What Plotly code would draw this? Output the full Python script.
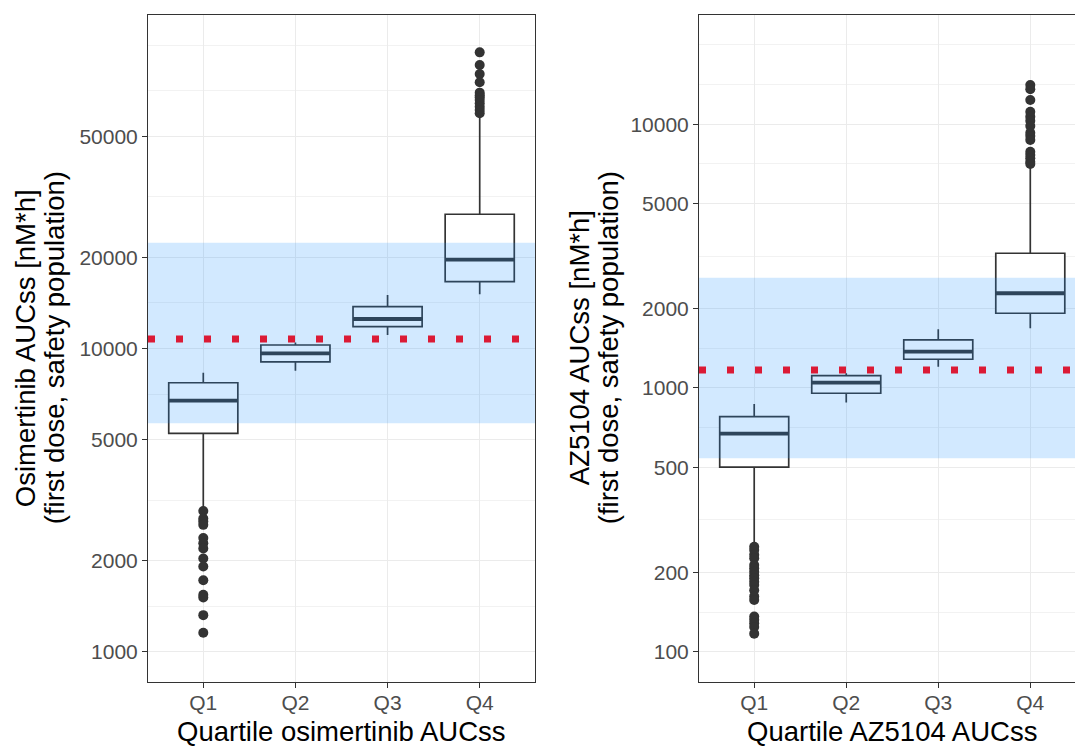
import plotly.graph_objects as go

# ---- data -------------------------------------------------------------
categories = ["Q1", "Q2", "Q3", "Q4"]
positions = [1, 2, 3, 4]

# Osimertinib AUCss (nM*h) box statistics per exposure quartile
osi_lower = [2950, 8450, 11080, 15100]
osi_q1 = [5250, 9030, 11800, 16610]
osi_median = [6730, 9640, 12510, 19630]
osi_q3 = [7710, 10270, 13740, 27720]
osi_upper = [8320, 10470, 15020, 58500]
osi_outliers_q1 = [2910, 2750, 2690, 2620, 2370, 2280, 2190, 2030, 1910,
                   1720, 1540, 1510, 1320, 1155]
osi_outliers_q4 = [94800, 86100, 80400, 75500, 69800, 68500, 67400, 66000,
                   64400, 62700, 61200, 59700]
osi_band = [5665, 22330]
osi_reference = 10750
osi_ticks = [1000, 2000, 5000, 10000, 20000, 50000]
osi_minor = [1414, 3162, 7071, 14142, 31623, 70711, 100000]

# AZ5104 AUCss (nM*h) box statistics per exposure quartile
az_lower = [252, 880, 1204, 1684]
az_q1 = [501, 955, 1285, 1920]
az_median = [671, 1047, 1373, 2287]
az_q3 = [778, 1113, 1521, 3242]
az_upper = [870, 1137, 1670, 7050]
az_outliers_q1 = [250, 243, 233, 226, 213, 207, 201, 195, 190, 184, 179,
                  171, 162, 157, 136, 132, 128, 124, 117]
az_outliers_q4 = [14090, 13570, 12360, 11160, 10690, 10320, 9850, 9290,
                  9030, 8720, 7870, 7650, 7430, 7210, 7070]
az_band = [541, 2620]
az_reference = 1170
az_ticks = [100, 200, 500, 1000, 2000, 5000, 10000]
az_minor = [141, 316, 707, 1414, 3162, 7071, 14142, 20000]

# ---- styling ----------------------------------------------------------
FONT = "Liberation Sans, Arial, Helvetica, sans-serif"
DARK = "#333333"
GRID = "#EBEBEB"
BAND = "rgba(30,144,255,0.20)"
RED = "#DB1A35"
BOX_W = 0.75
X_SPAN = [0.4, 4.6]

fig = go.Figure()


def add_panel(xa, ya, lower, q1, med, q3, upper, out_q1, out_q4, band, ref):
    fig.add_trace(go.Box(
        x=positions, q1=q1, median=med, q3=q3,
        lowerfence=lower, upperfence=upper,
        width=BOX_W, whiskerwidth=0, boxpoints=False,
        fillcolor="white", line=dict(color=DARK, width=1.7),
        xaxis=xa, yaxis=ya, showlegend=False, hoverinfo="skip"))
    # thicker median bars
    mx, my = [], []
    for p, m in zip(positions, med):
        mx += [p - BOX_W / 2, p + BOX_W / 2, None]
        my += [m, m, None]
    fig.add_trace(go.Scatter(x=mx, y=my, mode="lines",
                             line=dict(color=DARK, width=3.8),
                             xaxis=xa, yaxis=ya, showlegend=False,
                             hoverinfo="skip"))
    # outliers
    ox = [positions[0]] * len(out_q1) + [positions[3]] * len(out_q4)
    oy = out_q1 + out_q4
    fig.add_trace(go.Scatter(x=ox, y=oy, mode="markers",
                             marker=dict(color=DARK, size=10),
                             xaxis=xa, yaxis=ya, showlegend=False,
                             hoverinfo="skip"))
    # shaded target band drawn over the boxes
    fig.add_trace(go.Scatter(
        x=[X_SPAN[0], X_SPAN[1], X_SPAN[1], X_SPAN[0], X_SPAN[0]],
        y=[band[0], band[0], band[1], band[1], band[0]],
        mode="lines", fill="toself", fillcolor=BAND,
        line=dict(width=0), xaxis=xa, yaxis=ya, showlegend=False,
        hoverinfo="skip"))
    # dotted reference level
    fig.add_trace(go.Scatter(
        x=X_SPAN, y=[ref, ref], mode="lines",
        line=dict(color=RED, width=7, dash="7px,21px"),
        xaxis=xa, yaxis=ya, showlegend=False, hoverinfo="skip"))


add_panel("x", "y", osi_lower, osi_q1, osi_median, osi_q3, osi_upper,
          osi_outliers_q1, osi_outliers_q4, osi_band, osi_reference)
add_panel("x2", "y2", az_lower, az_q1, az_median, az_q3, az_upper,
          az_outliers_q1, az_outliers_q4, az_band, az_reference)

W, H = 1075, 748
left_px = (148.0, 535.0)
right_px = (699.0, 1075.0)
top_px, bottom_px = 14.7, 681.7
ydom = [(H - bottom_px) / H, (H - top_px) / H]
tickfont = dict(family=FONT, size=21, color="#4D4D4D")

xcommon = dict(tickmode="array", tickvals=positions, ticktext=categories,
               showgrid=True, gridcolor=GRID, gridwidth=1.3, zeroline=False,
               showline=True, linecolor=DARK, linewidth=1, mirror=True,
               ticks="outside", ticklen=5, tickcolor=DARK, tickwidth=1,
               ticklabelstandoff=-3,
               tickfont=tickfont, automargin=False)
ycommon = dict(type="log", showgrid=True, gridcolor=GRID, gridwidth=1.3,
               zeroline=False, showline=True, linecolor=DARK, linewidth=1,
               ticks="outside", ticklen=5, tickcolor=DARK, tickwidth=1,
               tickfont=tickfont, automargin=False, tickmode="array")

fig.update_layout(
    width=W, height=H,
    margin=dict(l=0, r=0, t=0, b=0),
    paper_bgcolor="white", plot_bgcolor="white",
    xaxis=dict(xcommon, domain=[left_px[0] / W, left_px[1] / W],
               range=X_SPAN, anchor="y"),
    xaxis2=dict(xcommon, domain=[right_px[0] / W, right_px[1] / W],
                range=[X_SPAN[0], 4 + (1075 - 1030.3) / 92.0], anchor="y2"),
    yaxis=dict(ycommon, domain=ydom, range=[2.901, 5.101], anchor="x",
               mirror=True, tickvals=osi_ticks,
               ticktext=[str(v) for v in osi_ticks],
               minor=dict(tickmode="array", tickvals=osi_minor,
                          showgrid=True, gridcolor="#F2F2F2", gridwidth=0.7,
                          ticklen=0)),
    yaxis2=dict(ycommon, domain=ydom, range=[1.886, 4.4156], anchor="x2",
                mirror=False, tickvals=az_ticks,
                ticktext=[str(v) for v in az_ticks],
                minor=dict(tickmode="array", tickvals=az_minor,
                           showgrid=True, gridcolor="#F2F2F2", gridwidth=0.7,
                           ticklen=0)),
)

titlefont = dict(family=FONT, size=27.5, color="black")
ymid = (H - (top_px + bottom_px) / 2) / H
annotations = [
    dict(text="Quartile osimertinib AUCss", xref="x", x=2.5,
         yref="paper", y=0.0, yanchor="bottom", borderpad=0),
    dict(text="Quartile AZ5104 AUCss", xref="x2", x=2.5,
         yref="paper", y=0.0, yanchor="bottom", borderpad=0),
    dict(text="Osimertinib AUCss [nM*h]", xref="paper", x=25 / W,
         yref="paper", y=ymid, textangle=-90),
    dict(text="(first dose, safety population)", xref="paper", x=54 / W,
         yref="paper", y=ymid, textangle=-90),
    dict(text="AZ5104 AUCss [nM*h]", xref="paper", x=579 / W,
         yref="paper", y=ymid, textangle=-90),
    dict(text="(first dose, safety population)", xref="paper", x=608 / W,
         yref="paper", y=ymid, textangle=-90),
]
for a in annotations:
    a.setdefault("yanchor", "middle")
    a.update(showarrow=False, font=titlefont, xanchor="center")
fig.update_layout(annotations=annotations)

fig.write_html("out.html")
